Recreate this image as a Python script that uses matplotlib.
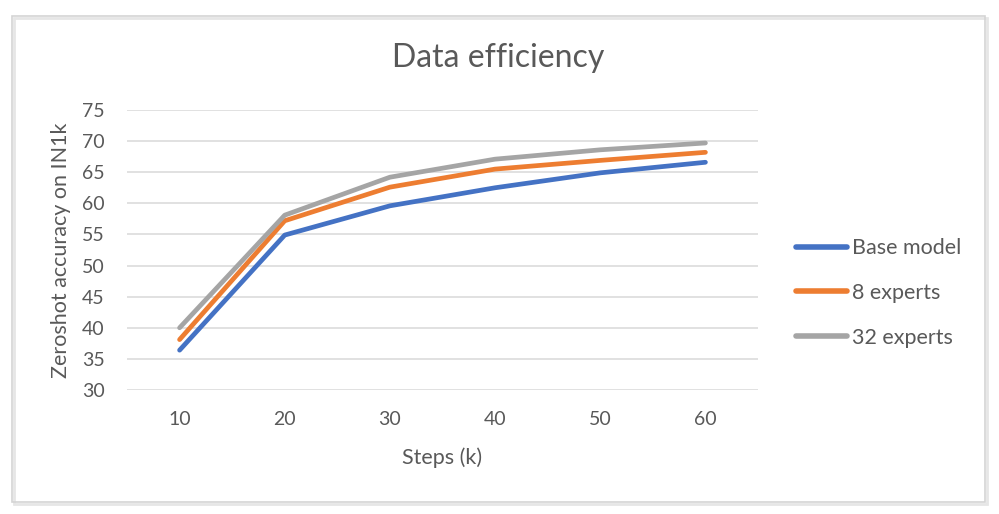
import matplotlib.pyplot as plt
from matplotlib.patches import Rectangle

# values
steps = [10, 20, 30, 40, 50, 60]
base_model = [36.4, 54.9, 59.6, 62.5, 64.9, 66.6]
experts_8 = [38.1, 57.2, 62.6, 65.5, 66.9, 68.2]
experts_32 = [40.0, 58.1, 64.2, 67.1, 68.6, 69.7]
y_ticks = [30, 35, 40, 45, 50, 55, 60, 65, 70, 75]

series = [
    ("Base model", base_model, "#4472C4"),
    ("8 experts", experts_8, "#ED7D31"),
    ("32 experts", experts_32, "#A5A5A5"),
]

plt.rcParams['font.family'] = ['Lato', 'DejaVu Sans']
text_color = "#595959"

fig = plt.figure(figsize=(9.99, 5.14), dpi=100)
W, H = 999, 514

# chart border like an Excel chart area (with a faint shadow)
fig.patches.append(Rectangle((14 / W, 1 - 504 / H), 973 / W, 486 / H, transform=fig.transFigure,
                             facecolor="none", edgecolor="#e6e6e6", lw=2.0, zorder=0))
fig.patches.append(Rectangle((12 / W, 1 - 502 / H), 973 / W, 486 / H, transform=fig.transFigure,
                             facecolor="none", edgecolor="#d4d4d4", lw=1.2, zorder=0))

ax = fig.add_axes([127 / W, 1 - 390 / H, 631 / W, 280 / H])
ax.set_facecolor("none")
ax.set_zorder(2)

for label, values, color in series:
    ax.plot(steps, values, color=color, lw=3.4, label=label,
            solid_capstyle="round", solid_joinstyle="round", zorder=3)

ax.set_xlim(5, 65)
ax.set_ylim(30, 75)
ax.set_xticks(steps)
ax.set_yticks(y_ticks)
ax.grid(axis="y", color="#d9d9d9", lw=1.1, zorder=1)
ax.tick_params(axis="both", length=0, labelsize=14, labelcolor=text_color)
ax.tick_params(axis="y", pad=16)
ax.tick_params(axis="x", pad=15)
for side in ["top", "right", "bottom", "left"]:
    ax.spines[side].set_visible(False)

ax.set_xlabel("Steps (k)", fontsize=15.5, color=text_color, labelpad=14)
ax.set_ylabel("Zeroshot accuracy on IN1k", fontsize=15.5, color=text_color, labelpad=8)

fig.text(498 / W, 1 - 58 / H, "Data efficiency", fontsize=23, color=text_color,
         ha="center", va="center")

leg = ax.legend(loc="center left", bbox_to_anchor=(785 / W, 1 - 293 / H),
                bbox_transform=fig.transFigure, frameon=False, fontsize=15.5,
                borderpad=0, handlelength=2.4, handletextpad=0.2, labelspacing=1.14)
for t in leg.get_texts():
    t.set_color(text_color)
for line in leg.get_lines():
    line.set_linewidth(4.0)

fig.savefig("out.png", dpi=100)
